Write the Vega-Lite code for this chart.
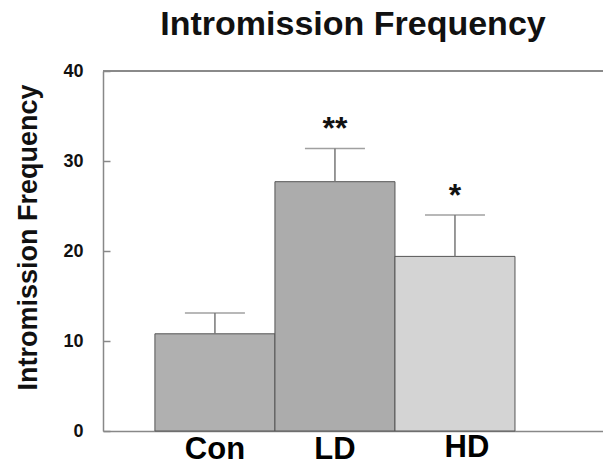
{
  "$schema": "https://vega.github.io/schema/vega-lite/v6.json",
  "width": 500,
  "height": 360,
  "autosize": {"type": "none"},
  "padding": {"left": 103, "top": 71, "right": 0, "bottom": 35},
  "background": "white",
  "config": {
    "view": {"stroke": null},
    "font": "Liberation Sans"
  },
  "title": {
    "text": "Intromission Frequency",
    "fontSize": 34,
    "fontWeight": "bold",
    "font": "Liberation Sans",
    "color": "#111111",
    "anchor": "middle",
    "offset": 20
  },
  "data": {
    "values": [
      {"group": "Con", "mean": 10.8, "upper": 13.1, "star": ""},
      {"group": "LD", "mean": 27.7, "upper": 31.4, "star": "**"},
      {"group": "HD", "mean": 19.4, "upper": 24.0, "star": "*"}
    ]
  },
  "encoding": {
    "x": {
      "field": "group",
      "type": "nominal",
      "sort": ["Con", "LD", "HD"],
      "scale": {"paddingInner": 0, "paddingOuter": 0.583, "align": 0.371},
      "axis": {
        "title": null,
        "labelAngle": 0,
        "labelFontSize": 31,
        "labelFontWeight": "bold",
        "labelFont": "Liberation Sans",
        "labelColor": "#000000",
        "labelPadding": {"condition": {"test": "datum.value === 'HD'", "value": 1}, "value": 3},
        "labelOffset": {"condition": {"test": "datum.value === 'HD'", "value": 12}, "value": 0},
        "ticks": false,
        "domainColor": "#888888",
        "domainWidth": 1.5
      }
    }
  },
  "layer": [
    {
      "mark": {"type": "rule", "color": "#888888", "strokeWidth": 1.5},
      "encoding": {"x": null, "y": {"datum": 40, "type": "quantitative", "scale": {"domain": [0, 40]}}}
    },
    {
      "mark": {"type": "bar", "stroke": "#555555", "strokeWidth": 1},
      "encoding": {
        "y": {
          "field": "mean",
          "type": "quantitative",
          "scale": {"domain": [0, 40], "nice": false},
          "axis": {
            "values": [0, 10, 20, 30, 40],
            "title": "Intromission Frequency",
            "titleFontSize": 27,
            "titleFontWeight": "bold",
            "titleFont": "Liberation Sans",
            "titleColor": "#111111",
            "titleX": -75,
            "titleY": 166,
            "titleAngle": -90,
            "titleAlign": "center",
            "titleBaseline": "middle",
            "labelFontSize": 18,
            "labelFontWeight": "bold",
            "labelFont": "Liberation Sans",
            "labelColor": "#111111",
            "labelPadding": 27,
            "tickSize": -7,
            "tickColor": "#888888",
            "tickWidth": 1.5,
            "domainColor": "#888888",
            "domainWidth": 1.5,
            "grid": false
          }
        },
        "fill": {
          "field": "group",
          "type": "nominal",
          "scale": {"domain": ["Con", "LD", "HD"], "range": ["#b0b0b0", "#acacac", "#d4d4d4"]},
          "legend": null
        }
      }
    },
    {
      "mark": {"type": "rule", "color": "#777777", "strokeWidth": 1.5},
      "encoding": {
        "y": {"field": "mean", "type": "quantitative"},
        "y2": {"field": "upper"}
      }
    },
    {
      "mark": {"type": "tick", "color": "#777777", "thickness": 1.5, "size": 60},
      "encoding": {
        "y": {"field": "upper", "type": "quantitative"}
      }
    },
    {
      "mark": {"type": "text", "fontSize": 32, "fontWeight": "bold", "font": "Liberation Sans", "baseline": "alphabetic", "dy": -9, "color": "#111111"},
      "encoding": {
        "y": {"field": "upper", "type": "quantitative"},
        "text": {"field": "star"}
      }
    }
  ]
}
